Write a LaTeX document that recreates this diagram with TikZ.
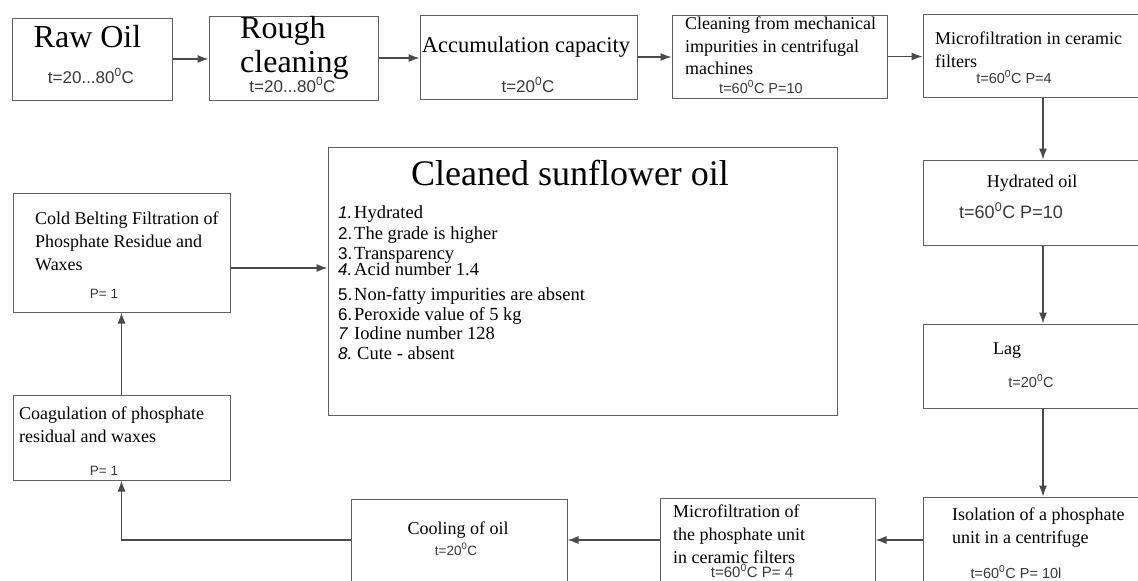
\documentclass[tikz,border=0pt]{standalone}
\usepackage{fontspec}
\setmainfont{Liberation Serif}
\setsansfont{Liberation Sans}
\usetikzlibrary{arrows.meta,positioning,calc}
\definecolor{frame}{HTML}{5F5F5F}
\definecolor{wire}{HTML}{4A4A4A}
\definecolor{param}{HTML}{383838}

\begin{document}
\begin{tikzpicture}[x=1pt,y=-1pt,
   box/.style={draw=frame,line width=1pt,fill=white,inner sep=0pt},
   lbl/.style={font=\fontsize{18}{23}\selectfont,align=left,anchor=base west,inner sep=0pt},
   cond/.style={font=\sffamily\fontsize{14.5}{17}\selectfont,text=param,anchor=base,inner sep=0pt},
   item/.style={font=\fontsize{18.5}{20}\selectfont,anchor=base west,inner sep=0pt},
   arr/.style={-{Latex[length=11pt,width=8pt]},line width=1.2pt,wire}]
  \useasboundingbox (0,0) rectangle (1138,581);
  \clip (0,0) rectangle (1138,581);
  % process boxes
  \node[box,minimum width=160pt,minimum height=82pt] (raw) at (92,59) {};
  \node[box,minimum width=169pt,minimum height=84pt] (rough) at (293.5,58) {};
  \node[box,minimum width=217pt,minimum height=84pt] (accum) at (528.5,57) {};
  \node[box,minimum width=215pt,minimum height=83pt] (mech) at (779.5,56.5) {};
  \node[box,minimum width=240pt,minimum height=83pt] (cmf) at (1043,55.5) {};
  \node[box,minimum width=240pt,minimum height=85pt] (hyd) at (1043,202.5) {};
  \node[box,minimum width=240pt,minimum height=84pt] (lag) at (1043,366) {};
  \node[box,minimum width=240pt,minimum height=124pt] (iso) at (1043,559) {};
  \node[box,minimum width=215pt,minimum height=124pt] (mph) at (767.5,560) {};
  \node[box,minimum width=216pt,minimum height=122pt] (cool) at (459,560) {};
  \node[box,minimum width=217pt,minimum height=85pt] (coag) at (121.5,437.5) {};
  \node[box,minimum width=217pt,minimum height=119pt] (cold) at (121.5,252.5) {};
  \node[box,minimum width=509pt,minimum height=268pt] (oil) at (582.5,281) {};
  \coordinate (lowrow) at (0,540);
  \coordinate (midrow) at (0,268);
  % connectors
  \foreach \a/\b in {raw/rough,rough/accum,accum/mech,mech/cmf}
    \draw[arr] (\a) -- (\a -| \b.west);
  \foreach \a/\b in {cmf/hyd,hyd/lag,lag/iso}
    \draw[arr] (\a) -- (\b);
  \draw[arr] (iso.west |- lowrow) -- (mph.east |- lowrow);
  \draw[arr] (mph.west |- lowrow) -- (cool.east |- lowrow);
  \draw[arr] (cool.west |- lowrow) -| (coag.south);
  \draw[arr] (coag) -- (cold);
  \draw[arr] (cold.east |- midrow) -- (oil.west |- midrow);
  % texts (multi-line labels sit on their last baseline)
  \node[anchor=base,inner sep=0pt,font=\fontsize{32}{34}\selectfont] (rawt) at (87.5,47) {Raw Oil};
  \node[cond,font=\sffamily\fontsize{17}{20}\selectfont] (rawc) at (91,83) {t=20...80\textsuperscript{0}C};
  \node[lbl,font=\fontsize{32}{34}\selectfont] (rought) at (240,72) {Rough\\cleaning};
  \node[cond,font=\sffamily\fontsize{17}{20}\selectfont] (roughc) at (292.5,92) {t=20...80\textsuperscript{0}C};
  \node[anchor=base,inner sep=0pt,font=\fontsize{22.5}{26}\selectfont] (accumt) at (526,52) {Accumulation capacity};
  \node[cond,font=\sffamily\fontsize{17}{20}\selectfont] (accumc) at (528,92) {t=20\textsuperscript{0}C};
  \node[lbl,font=\fontsize{18}{22.5}\selectfont] (mecht) at (685,74.5) {Cleaning from mechanical\\impurities in centrifugal\\machines};
  \node[cond] (mechc) at (761,93) {t=60\textsuperscript{0}C P=10};
  \node[lbl] (cmft) at (935,67.5) {Microfiltration in ceramic\\filters};
  \node[cond] (cmfc) at (1014,83) {t=60\textsuperscript{0}C P=4};
  \node[anchor=base,inner sep=0pt,font=\fontsize{18}{23}\selectfont] (hydt) at (1032,187.5) {Hydrated oil};
  \node[cond,font=\sffamily\fontsize{18}{21}\selectfont] (hydc) at (1011,218) {t=60\textsuperscript{0}C P=10};
  \node[lbl] (lagt) at (993,354) {Lag};
  \node[cond] (lagc) at (1031,387) {t=20\textsuperscript{0}C};
  \node[lbl] (isot) at (952,543.5) {Isolation of a phosphate\\unit in a centrifuge};
  \node[cond] (isoc) at (1016,578) {t=60\textsuperscript{0}C P= 10l};
  \node[lbl] (mpht) at (673,563.5) {Microfiltration of\\the phosphate unit\\in ceramic filters};
  \node[cond,font=\sffamily\fontsize{15}{17}\selectfont] (mphc) at (752,577) {t=60\textsuperscript{0}C P= 4};
  \node[anchor=base,inner sep=0pt,font=\fontsize{18}{23}\selectfont] (coolt) at (458,534.5) {Cooling of oil};
  \node[cond,font=\sffamily\fontsize{13.5}{16}\selectfont] (coolc) at (456,555) {t=20\textsuperscript{0}C};
  \node[lbl] (coldt) at (35,270.5) {Cold Belting Filtration of\\Phosphate Residue and\\Waxes};
  \node[cond,font=\sffamily\fontsize{13.5}{16}\selectfont] (coldc) at (104,298) {P= 1};
  \node[lbl] (coagt) at (19,442.5) {Coagulation of phosphate\\residual and waxes};
  \node[cond,font=\sffamily\fontsize{13.5}{16}\selectfont] (coagc) at (104,475) {P= 1};
  \node[anchor=base,inner sep=0pt,font=\fontsize{36}{40}\selectfont] (oilt) at (570,185) {Cleaned sunflower oil};
  \foreach[count=\i] \y/\k/\s in {218/{\itshape 1.}/Hydrated,239/2./The grade is higher,
      259/3./Transparency,275/{\itshape 4.}/Acid number 1.4,300/5./Non-fatty impurities are absent,
      320/6./Peroxide value of 5 kg,339/{\itshape 7}/Iodine number 128,359/{\itshape 8.}/\hspace{3pt}Cute - absent}
    \node[item] (it\i) at (338,\y) {\makebox[16pt][l]{\sffamily\fontsize{17}{20}\selectfont\k}\s};
\end{tikzpicture}
\end{document}
